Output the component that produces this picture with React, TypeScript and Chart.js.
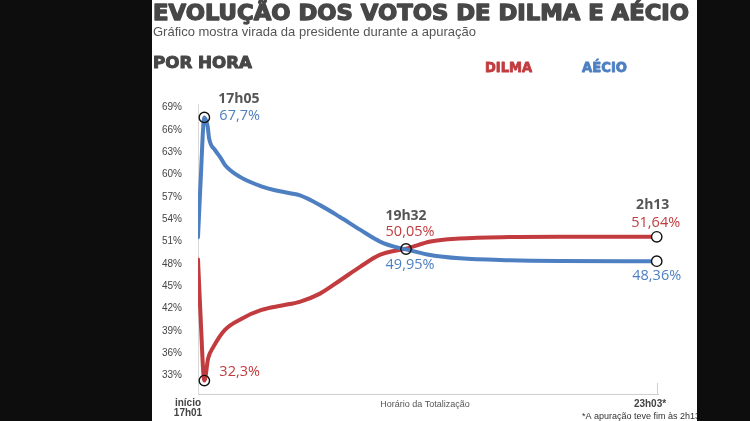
import React, { useEffect, useRef } from "react";
import { Chart, registerables } from "chart.js";
Chart.register(...registerables);

// minutes elapsed since 17h01 (position along the tally axis)
const aecioMinutes = [0, 2, 5, 7.6, 8.7, 13.4, 17.3, 21.2, 33, 50.4, 60.6, 72.4, 80.3, 96, 111.7, 127.5, 143.2, 159, 163.7, 182.6, 206, 245.5, 285, 361];
const aecioValues = [51.6, 58.9, 67.7, 66.5, 64.9, 63.3, 62.4, 61.3, 59.7, 58.4, 57.9, 57.5, 57.2, 55.9, 54.3, 52.6, 51.0, 50.1, 49.95, 49.2, 48.75, 48.5, 48.4, 48.36];

const dilmaMinutes = [0, 2, 5, 8, 12, 21, 34, 50, 66, 80, 96, 112, 127.5, 143, 159, 163.7, 183, 206, 245, 285, 361];
const dilmaValues = [48.6, 41.0, 32.3, 35.3, 36.8, 39.1, 40.6, 41.8, 42.4, 42.9, 44.0, 45.8, 47.6, 49.2, 49.9, 50.05, 51.0, 51.4, 51.6, 51.64, 51.64];

const yTickValues = [33, 36, 39, 42, 45, 48, 51, 54, 57, 60, 63, 66, 69];

const TITLE = "EVOLUÇÃO DOS VOTOS DE DILMA E AÉCIO";
const SUBTITLE = "Gráfico mostra virada da presidente durante a apuração";
const SECTION = "POR HORA";
const LEGEND_DILMA = "DILMA";
const LEGEND_AECIO = "AÉCIO";
const X_START_1 = "início";
const X_START_2 = "17h01";
const X_END = "23h03*";
const X_TITLE = "Horário da Totalização";
const FOOTNOTE = "*A apuração teve fim às 2h13";

// highlighted moments
const peakMinute = 5;
const peakTime = "17h05";
const peakAecio = 67.7;
const peakDilma = 32.3;
const crossMinute = 163.7;
const crossTime = "19h32";
const crossDilma = 50.05;
const crossAecio = 49.95;
const endMinute = 361;
const endTime = "2h13";
const endDilma = 51.64;
const endAecio = 48.36;

const BLUE = "#4d7fc1";
const RED = "#c23b3e";
const GRAY = "#555555";
const fmt = (v: number) => String(v).replace(".", ",") + "%";

export default function App() {
  const ref = useRef<HTMLCanvasElement>(null);
  useEffect(() => {
    document.body.style.margin = "0";
    const textPlugin = {
      id: "texts",
      beforeDraw(chart: any) {
        const ctx = chart.ctx;
        ctx.save();
        ctx.fillStyle = "#ffffff";
        ctx.fillRect(0, 0, chart.width, chart.height);
        ctx.restore();
      },
      afterDraw(chart: any) {
        const ctx = chart.ctx;
        const xs = chart.scales.x;
        const ys = chart.scales.y;
        ctx.save();
        const fit = (t: string, x: number, y: number, font: string, color: string, w: number, heavy: number) => {
          ctx.save();
          ctx.font = font;
          const mw = ctx.measureText(t).width;
          ctx.translate(x, y);
          ctx.scale(w / mw, 1);
          ctx.fillStyle = color;
          ctx.strokeStyle = color;
          ctx.lineWidth = heavy;
          ctx.lineJoin = "round";
          ctx.textAlign = "left";
          ctx.textBaseline = "alphabetic";
          if (heavy > 0) ctx.strokeText(t, 0, 0);
          ctx.fillText(t, 0, 0);
          ctx.restore();
        };
        fit(TITLE, 153, 20, "bold 20.5px 'DejaVu Sans'", "#474747", 536, 1.3);
        ctx.font = "13px 'Liberation Sans'";
        ctx.fillStyle = GRAY;
        ctx.textBaseline = "alphabetic";
        ctx.textAlign = "left";
        ctx.fillText(SUBTITLE, 153, 36);
        fit(SECTION, 153, 68, "bold 16px 'DejaVu Sans'", "#474747", 99, 1);
        fit(LEGEND_DILMA, 485, 72, "bold 13.5px 'DejaVu Sans'", RED, 47, 0.8);
        fit(LEGEND_AECIO, 582, 72, "bold 13.5px 'DejaVu Sans'", BLUE, 45, 0.8);

        // x tick at the end
        ctx.strokeStyle = "#cfcfcf";
        ctx.lineWidth = 1;
        ctx.beginPath();
        ctx.moveTo(xs.right - 0.5, ys.bottom - 11);
        ctx.lineTo(xs.right - 0.5, ys.bottom);
        ctx.stroke();

        // x labels
        ctx.textBaseline = "middle";
        ctx.textAlign = "center";
        ctx.fillStyle = "#444";
        ctx.font = "bold 10px 'Liberation Sans'";
        ctx.fillText(X_START_1, xs.left - 10, 403);
        ctx.fillText(X_START_2, xs.left - 10, 413);
        ctx.fillText(X_END, xs.right - 8, 404);
        ctx.font = "9px 'Liberation Sans'";
        ctx.fillStyle = GRAY;
        ctx.fillText(X_TITLE, 425, 405);
        ctx.textAlign = "left";
        ctx.fillStyle = "#333";
        ctx.fillText(FOOTNOTE, 582, 417);

        // markers
        const circle = (m: number, v: number, fill: boolean) => {
          const px = xs.getPixelForValue(m);
          const py = ys.getPixelForValue(v);
          ctx.beginPath();
          ctx.arc(px, py, 5.2, 0, Math.PI * 2);
          if (fill) {
            ctx.fillStyle = "#fff";
            ctx.fill();
          }
          ctx.strokeStyle = "#111";
          ctx.lineWidth = 1.4;
          ctx.stroke();
        };
        circle(peakMinute, peakAecio, false);
        circle(peakMinute, peakDilma, false);
        circle(crossMinute, (crossAecio + crossDilma) / 2, false);
        circle(endMinute, endDilma, true);
        circle(endMinute, endAecio, true);

        const label = (t: string, x: number, y: number, color: string, bold: boolean, align: CanvasTextAlign) => {
          ctx.font = (bold ? "bold " : "") + (bold ? "14px" : "14.5px") + " 'Open Sans'";
          ctx.fillStyle = color;
          ctx.textAlign = align;
          ctx.textBaseline = "middle";
          ctx.fillText(t, x, y);
        };
        const pkx = xs.getPixelForValue(peakMinute);
        label(peakTime, pkx + 14, ys.getPixelForValue(peakAecio) - 18, GRAY, true, "left");
        label(fmt(peakAecio), pkx + 15, ys.getPixelForValue(peakAecio) - 2, BLUE, false, "left");
        label(fmt(peakDilma), pkx + 15, ys.getPixelForValue(peakDilma) - 9, RED, false, "left");
        const cx = xs.getPixelForValue(crossMinute);
        const cy = ys.getPixelForValue((crossAecio + crossDilma) / 2);
        label(crossTime, cx, cy - 33, GRAY, true, "center");
        label(fmt(crossDilma), cx + 4, cy - 17, RED, false, "center");
        label(fmt(crossAecio), cx + 4, cy + 16, BLUE, false, "center");
        const ex = xs.getPixelForValue(endMinute);
        label(endTime, ex - 4, ys.getPixelForValue(endDilma) - 32, GRAY, true, "center");
        label(fmt(endDilma), ex - 1, ys.getPixelForValue(endDilma) - 14, RED, false, "center");
        label(fmt(endAecio), ex, ys.getPixelForValue(endAecio) + 15, BLUE, false, "center");

        // dark side panels
        ctx.fillStyle = "#0d0d0d";
        ctx.fillRect(0, 0, 152, chart.height);
        ctx.fillRect(697, 0, chart.width - 697, chart.height);
        ctx.restore();
      },
    };

    const chart = new Chart(ref.current!, {
      type: "line",
      data: {
        datasets: [
          {
            label: "Aécio",
            data: aecioMinutes.map((m, i) => ({ x: m, y: aecioValues[i] })),
            borderColor: BLUE,
            borderWidth: 4,
            pointRadius: 0,
            cubicInterpolationMode: "monotone",
            borderCapStyle: "round",
            borderJoinStyle: "round",
          },
          {
            label: "Dilma",
            data: dilmaMinutes.map((m, i) => ({ x: m, y: dilmaValues[i] })),
            borderColor: RED,
            borderWidth: 4,
            pointRadius: 0,
            cubicInterpolationMode: "monotone",
            borderCapStyle: "round",
            borderJoinStyle: "round",
          },
        ],
      },
      options: {
        responsive: false,
        animation: false,
        devicePixelRatio: 1,
        layout: { padding: { left: 0, top: 104, right: 92, bottom: 27 } },
        plugins: { legend: { display: false }, tooltip: { enabled: false } },
        scales: {
          x: {
            type: "linear",
            min: 0,
            max: 362,
            ticks: { display: false },
            grid: { display: false, drawTicks: false },
            border: { color: "#cfcfcf", width: 1 },
            afterFit: (s: any) => {
              s.height = 0;
            },
          },
          y: {
            min: 30.5,
            max: 69.5,
            afterBuildTicks: (s: any) => {
              s.ticks = yTickValues.map((v) => ({ value: v }));
            },
            ticks: {
              callback: (v: any) => v + "%",
              padding: 16,
              color: "#444",
              font: { family: "'Liberation Sans'", size: 10 },
            },
            grid: { display: false, drawTicks: false },
            border: { color: "#d9d9d9", width: 1 },
            afterFit: (s: any) => {
              s.width = 198;
            },
          },
        },
      },
      plugins: [textPlugin],
    } as any);
    return () => chart.destroy();
  }, []);
  return (
    <div style={{ width: 750, height: 421 }}>
      <canvas ref={ref} width={750} height={421} style={{ display: "block", width: 750, height: 421 }} />
    </div>
  );
}
